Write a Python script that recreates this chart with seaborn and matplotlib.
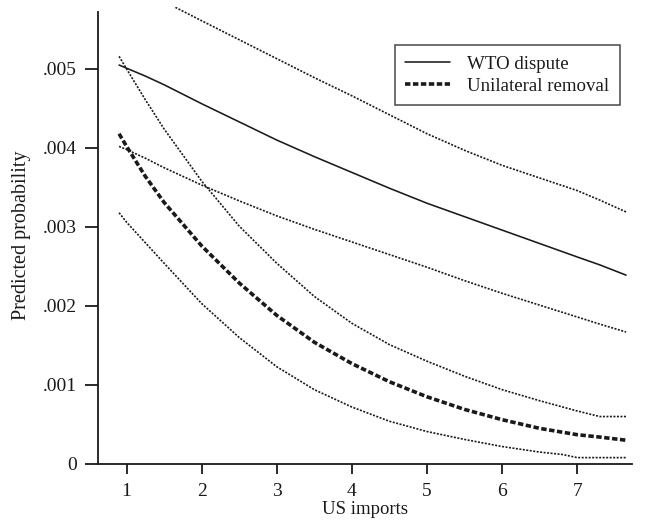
import numpy as np
import pandas as pd
import seaborn as sns
import matplotlib
matplotlib.use("Agg")
import matplotlib.pyplot as plt

# ---- data ----
x_grid = [0.9, 1.0, 1.25, 1.5, 2.0, 2.5, 3.0, 3.5, 4.0, 4.5, 5.0, 5.5, 6.0, 6.5, 7.0, 7.3, 7.65]

wto = [.00505, .00501, .00491, .00480, .00456, .00433, .00410, .00389, .00369,
       .00349, .00330, .00313, .00296, .00279, .00262, .00252, .00239]
wto_lo = [.00402, .00398, .00387, .00375, .00353, .00333, .00314, .00297, .00281,
          .00265, .00249, .00232, .00216, .00201, .00186, .00177, .00167]
wto_hi_x = [1.65, 2.0, 2.5, 3.0, 3.5, 4.0, 4.5, 5.0, 5.5, 6.0, 6.5, 7.0, 7.3, 7.65]
wto_hi = [.00578, .00561, .00537, .00513, .00489, .00466, .00442, .00418, .00397,
          .00378, .00362, .00346, .00334, .00319]

uni = [.00418, .00402, .00364, .00331, .00276, .00229, .00188, .00154, .00127,
       .00104, .00085, .00069, .00056, .00045, .00037, .00034, .00030]
uni_hi = [.00516, .00500, .00461, .00424, .00358, .00301, .00254, .00212, .00178,
          .00151, .00130, .00111, .00094, .00080, .00067, .00060, .00060]
uni_lo_x = [0.9, 1.0, 1.25, 1.5, 2.0, 2.5, 3.0, 3.5, 4.0, 4.5, 5.0, 5.5, 6.0, 6.5, 6.8, 7.0, 7.3, 7.65]
uni_lo = [.00318, .00306, .00280, .00254, .00203, .00160, .00123, .00094, .00072,
          .00054, .00041, .00031, .00022, .00015, .00012, .00008, .00008, .00008]

x_ticks = [1, 2, 3, 4, 5, 6, 7]
y_ticks = [0, .001, .002, .003, .004, .005]
y_labels = ["0", ".001", ".002", ".003", ".004", ".005"]

sns.set_style("ticks")
plt.rcParams['font.family'] = ['Liberation Serif', 'DejaVu Serif']

fig = plt.figure(figsize=(6.45, 5.26), dpi=100)
ax = fig.add_axes([0.152, 0.118, 0.828, 0.868])

ink = "#1a1a1a"
dot = (0, (1.2, 0.9))

# confidence bounds (thin dotted)
for xs, ys in [(wto_hi_x, wto_hi), (x_grid, wto_lo), (x_grid, uni_hi), (uni_lo_x, uni_lo)]:
    sns.lineplot(x=xs, y=ys, ax=ax, color=ink, lw=1.2, linestyle=dot, legend=False)

sns.lineplot(x=x_grid, y=wto, ax=ax, color=ink, lw=1.15, label="WTO dispute")
sns.lineplot(x=x_grid, y=uni, ax=ax, color=ink, lw=2.6, linestyle=(0, (1.5, 0.7)),
             label="Unilateral removal")

ax.set_xlim(0.62, 7.73)
ax.set_ylim(0, 0.00578)
ax.spines['left'].set_bounds(0, 0.00572)
sns.despine(ax=ax)
for s in ['left', 'bottom']:
    ax.spines[s].set_linewidth(1.3)
    ax.spines[s].set_color(ink)

ax.set_xticks(x_ticks)
ax.set_yticks(y_ticks)
ax.set_yticklabels(y_labels)
ax.tick_params(axis='both', direction='out', width=1.3, color=ink,
               labelsize=14, labelcolor=ink)
ax.tick_params(axis='y', length=9.5, pad=6)
ax.tick_params(axis='x', length=7.5, pad=6)
ax.set_xlabel("US imports", fontsize=13.5, color=ink, labelpad=1)
ax.set_ylabel("Predicted probability", fontsize=14.5, color=ink, labelpad=8)

leg = ax.legend(loc='upper right', bbox_to_anchor=(620 / 645, 1 - 45 / 526),
                bbox_transform=fig.transFigure, fontsize=13.6, frameon=True,
                fancybox=False, handlelength=2.4, borderpad=0.55, borderaxespad=0,
                labelspacing=0.25, handletextpad=0.9)
leg.get_frame().set_edgecolor(ink)
leg.get_frame().set_linewidth(1.1)
for t in leg.get_texts():
    t.set_color(ink)

fig.savefig("out.png", dpi=100)
